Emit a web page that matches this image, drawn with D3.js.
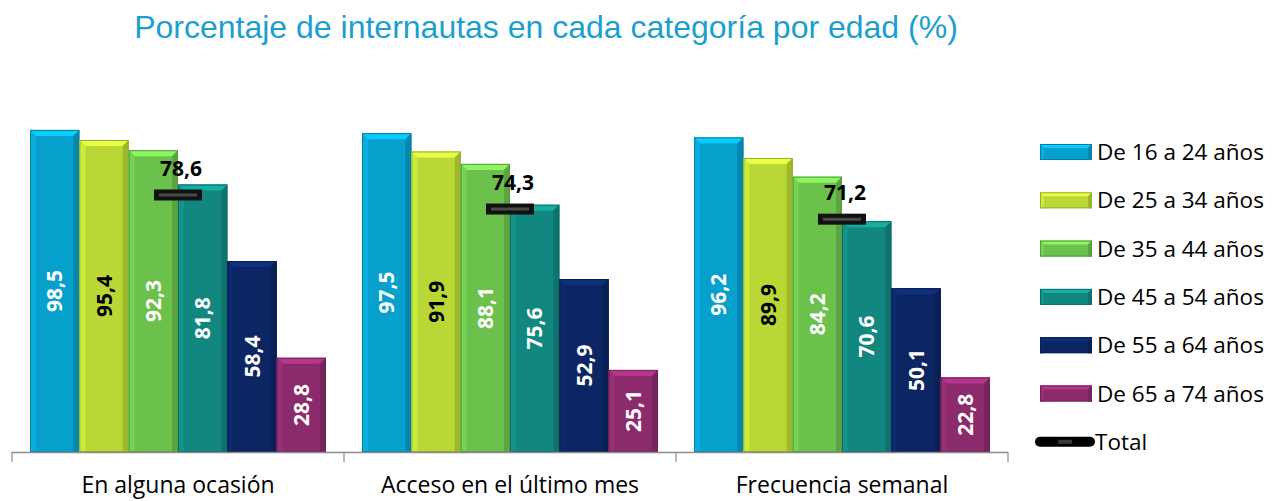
<!DOCTYPE html>
<html>
<head>
<meta charset="utf-8">
<script src="https://cdn.jsdelivr.net/npm/d3@7"></script>
<style>
  body { margin: 0; background: #fff; }
  svg { display: block; }
</style>
</head>
<body>
<div id="chart"></div>
<script>
// chart size
var width = 1274;
var height = 501;

// data
var categories = ["En alguna ocasión", "Acceso en el último mes", "Frecuencia semanal"];
var ageGroups = ["De 16 a 24 años", "De 25 a 34 años", "De 35 a 44 años",
                 "De 45 a 54 años", "De 55 a 64 años", "De 65 a 74 años"];
var v16_24 = [98.5, 97.5, 96.2];
var v25_34 = [95.4, 91.9, 89.9];
var v35_44 = [92.3, 88.1, 84.2];
var v45_54 = [81.8, 75.6, 70.6];
var v55_64 = [58.4, 52.9, 50.1];
var v65_74 = [28.8, 25.1, 22.8];
var totals = [78.6, 74.3, 71.2];
var totalLabel = "Total";

var seriesValues = [v16_24, v25_34, v35_44, v45_54, v55_64, v65_74];
var colors = ["#079fcb", "#b9d835", "#6cc04c", "#11877f", "#0c2563", "#8c2b6c"];
var labelColors = ["#fff", "#000", "#fff", "#fff", "#fff", "#fff"];

var svg = d3.select("#chart").append("svg")
    .attr("width", width)
    .attr("height", height);

// title
svg.append("text")
    .attr("x", 546)
    .attr("y", 38)
    .attr("text-anchor", "middle")
    .style("font-family", "Liberation Sans, Arial, sans-serif")
    .style("font-size", "32px")
    .style("fill", "#1a9fd0")
    .text("Porcentaje de internautas en cada categoría por edad (%)");

// scales
var x0 = d3.scaleBand().domain(categories).range([12, 1008]).paddingInner(0).paddingOuter(0);
var x1 = d3.scaleBand().domain(d3.range(6)).range([0, x0.bandwidth()]).paddingInner(0).paddingOuter(0.365);
var y = d3.scaleLinear().domain([0, 100]).range([452, 125]);

// bevelled bar
function bevel(g, x, yTop, w, h, color, b) {
  var c = d3.color(color);
  g.append("rect")
    .attr("x", x).attr("y", yTop).attr("width", w).attr("height", h)
    .style("fill", color);
  // top
  g.append("polygon")
    .attr("points", [[x, yTop], [x + w, yTop], [x + w - b, yTop + b], [x + b, yTop + b]].join(" "))
    .style("fill", c.brighter(0.7));
  // left
  g.append("polygon")
    .attr("points", [[x, yTop], [x + b, yTop + b], [x + b, yTop + h], [x, yTop + h]].join(" "))
    .style("fill", c.brighter(0.25));
  // right
  g.append("polygon")
    .attr("points", [[x + w, yTop], [x + w, yTop + h], [x + w - b, yTop + h], [x + w - b, yTop + b]].join(" "))
    .style("fill", c.darker(0.45));
  g.append("rect")
    .attr("x", x + 0.5).attr("y", yTop + 0.5).attr("width", w - 1).attr("height", h - 1)
    .style("fill", "none")
    .style("stroke", c.darker(0.6))
    .style("stroke-width", 1);
}

var groups = svg.selectAll("g.cat")
    .data(categories)
    .enter()
    .append("g")
    .attr("class", "cat")
    .attr("transform", function(d) { return "translate(" + x0(d) + ",0)"; });

groups.each(function(cat, ci) {
  var g = d3.select(this);
  seriesValues.forEach(function(vals, si) {
    var v = vals[ci];
    var bx = x1(si), bw = x1.bandwidth();
    var bar = g.append("g");
    bevel(bar, bx, y(v), bw, y(0) - y(v), colors[si], 6);
    var cy = (y(v) + y(0)) / 2;
    g.append("text")
      .attr("transform", "translate(" + (bx + bw / 2) + "," + cy + ") rotate(-90)")
      .attr("text-anchor", "middle")
      .attr("dy", "0.36em")
      .style("font-family", "Open Sans, sans-serif")
      .style("font-weight", "bold")
      .style("font-size", "21px")
      .style("fill", labelColors[si])
      .text(d3.format(".1f")(v).replace(".", ","));
  });

  // total marker
  var t = totals[ci];
  var cx = x0.bandwidth() / 2;
  var mw = 48, mh = 11;
  g.append("rect")
    .attr("x", cx - mw / 2).attr("y", y(t) - mh / 2)
    .attr("width", mw).attr("height", mh)
    .style("fill", "#111");
  g.append("polygon")
    .attr("points", [[cx - mw / 2 + 5, y(t) - 1.5], [cx + mw / 2 - 5, y(t) - 1.5],
                     [cx + mw / 2 - 5, y(t) + 1.5], [cx - mw / 2 + 5, y(t) + 1.5]].join(" "))
    .style("fill", "#4a4a4a");
  g.append("text")
    .attr("x", cx + 3)
    .attr("y", y(t) - 19)
    .attr("text-anchor", "middle")
    .style("font-family", "Open Sans, sans-serif")
    .style("font-weight", "bold")
    .style("font-size", "21px")
    .style("fill", "#000")
    .text(d3.format(".1f")(t).replace(".", ","));
});

// axis
var axis = svg.append("g").attr("transform", "translate(0," + y(0) + ")");
axis.append("line")
  .attr("x1", 12).attr("x2", 1008).attr("y1", 0.5).attr("y2", 0.5)
  .style("stroke", "#8c8c8c").style("stroke-width", 1.5);
var tickXs = categories.map(function(c) { return x0(c); }).concat([x0(categories[2]) + x0.bandwidth()]);
axis.selectAll("line.tick")
  .data(tickXs)
  .enter()
  .append("line")
  .attr("class", "tick")
  .attr("x1", function(d) { return d; }).attr("x2", function(d) { return d; })
  .attr("y1", 0).attr("y2", 10)
  .style("stroke", "#8c8c8c").style("stroke-width", 1.2);
axis.selectAll("text")
  .data(categories)
  .enter()
  .append("text")
  .attr("x", function(d) { return x0(d) + x0.bandwidth() / 2; })
  .attr("y", 41)
  .attr("text-anchor", "middle")
  .style("font-family", "Open Sans, sans-serif")
  .style("font-size", "23px")
  .style("fill", "#000")
  .text(function(d) { return d; });

// legend
var legend = svg.append("g").attr("transform", "translate(1040,0)");
ageGroups.forEach(function(name, i) {
  var cy = 152 + i * 48.3;
  var lg = legend.append("g");
  bevel(lg, 0, cy - 8, 52, 16, colors[i], 4);
  lg.append("text")
    .attr("x", 57).attr("y", cy)
    .attr("dy", "0.36em")
    .style("font-family", "Open Sans, sans-serif")
    .style("font-size", "22.5px")
    .style("fill", "#000")
    .text(name);
});
var ty = 152 + 6 * 48.3;
legend.append("rect")
  .attr("x", -5).attr("y", ty - 5).attr("width", 60).attr("height", 10)
  .attr("rx", 5).attr("ry", 5)
  .style("fill", "#000");
legend.append("rect")
  .attr("x", 18).attr("y", ty - 2).attr("width", 14).attr("height", 4)
  .style("fill", "#3a3a3a");
legend.append("text")
  .attr("x", 55).attr("y", ty)
  .attr("dy", "0.36em")
  .style("font-family", "Open Sans, sans-serif")
  .style("font-size", "22.5px")
  .style("fill", "#000")
  .text(totalLabel);
</script>
</body>
</html>
